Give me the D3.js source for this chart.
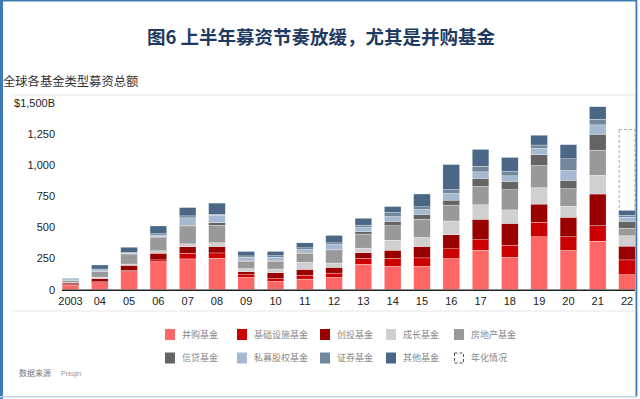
<!DOCTYPE html>
<html>
<head>
<meta charset="utf-8">
<script src="https://cdn.jsdelivr.net/npm/d3@7"></script>
<style>
  html, body { margin: 0; padding: 0; background: #fff; }
  svg { display: block; }
  .cjk { font-family: "Noto Sans CJK SC", "Noto Sans", sans-serif; }
  .num { font-family: "Liberation Sans", Arial, sans-serif; }
</style>
</head>
<body>
<div id="chart"></div>
<script>
// 全球各基金类型募资总额 (十亿美元), stacked by fund type
const years = ['2003', '04', '05', '06', '07', '08', '09', '10', '11', '12',
  '13', '14', '15', '16', '17', '18', '19', '20', '21', '22'];

const buyout = [32, 54, 143, 224, 246, 251, 97, 65, 84, 97, 203, 186, 186, 249, 316, 259, 424, 314, 389, 119];
const infra = [6, 8, 10, 14, 46, 43, 22, 22, 30, 35, 47, 63, 68, 78, 84, 98, 117, 110, 124, 119];
const venture = [14, 27, 42, 54, 51, 52, 24, 48, 48, 46, 46, 67, 92, 113, 165, 175, 146, 157, 255, 111];
const growth = [4, 11, 10, 19, 24, 30, 25, 30, 57, 35, 37, 81, 73, 111, 116, 108, 132, 89, 151, 83];
const realEstate = [14, 43, 76, 108, 138, 140, 59, 62, 73, 98, 113, 116, 146, 128, 148, 163, 178, 141, 202, 60];
const credit = [3, 4, 6, 5, 11, 22, 8, 8, 8, 11, 18, 36, 40, 40, 65, 67, 87, 67, 128, 57];
const privateEquity = [5, 10, 6, 14, 60, 59, 24, 24, 22, 40, 35, 37, 38, 54, 52, 44, 51, 79, 75, 32];
const securities = [3, 8, 5, 11, 16, 8, 11, 13, 13, 13, 19, 33, 22, 30, 46, 35, 27, 94, 46, 16];
const other = [7, 32, 42, 62, 67, 90, 36, 34, 40, 60, 55, 48, 103, 202, 135, 113, 79, 114, 100, 38];

// 2022 annualised total (dashed outline)
const annualYear = '22';
const annualTotal = 1287;

const seriesNames = ['并购基金', '基础设施基金', '创投基金', '成长基金', '房地产基金',
  '信贷基金', '私募股权基金', '证券基金', '其他基金'];
const seriesValues = [buyout, infra, venture, growth, realEstate, credit, privateEquity, securities, other];
const seriesColors = ['#ff6666', '#cc0000', '#990000', '#d0d0d0', '#999999',
  '#646464', '#a6b9d2', '#72879c', '#4a6785'];

const yTicks = [0, 250, 500, 750, 1000, 1250, 1500];

const W = 640, H = 399;

const svg = d3.select('#chart').append('svg')
  .attr('width', W)
  .attr('height', H);

svg.append('rect').attr('x', 0).attr('y', 0).attr('width', W).attr('height', H).attr('fill', '#fff');

// title
svg.append('text')
  .attr('class', 'cjk')
  .attr('x', 321).attr('y', 44)
  .attr('text-anchor', 'middle')
  .attr('font-size', 18.5)
  .attr('font-weight', 700)
  .attr('fill', '#1f3a60')
  .text('图6 上半年募资节奏放缓，尤其是并购基金');

svg.append('text')
  .attr('class', 'cjk')
  .attr('x', 3).attr('y', 86)
  .attr('font-size', 12.3)
  .attr('fill', '#333')
  .text('全球各基金类型募资总额');

// light rules framing the plot
svg.append('line').attr('x1', 13).attr('x2', 635).attr('y1', 95).attr('y2', 95)
  .attr('stroke', '#e6e6e6').attr('stroke-width', 1);
svg.append('line').attr('x1', 13).attr('x2', 635).attr('y1', 311).attr('y2', 311)
  .attr('stroke', '#e6e6e6').attr('stroke-width', 1);

const x = d3.scaleBand()
  .domain(years)
  .range([55.85, 55.85 + 29.29 * years.length])
  .paddingInner(0.43)
  .paddingOuter(0.215);

const y = d3.scaleLinear().domain([0, 1500]).range([289.5, 103]);

// stack
const table = years.map((yr, i) => {
  const row = { year: yr };
  seriesNames.forEach((s, k) => { row[s] = seriesValues[k][i]; });
  return row;
});
const stacked = d3.stack().keys(seriesNames)(table);

const g = svg.append('g');
g.selectAll('g.layer')
  .data(stacked)
  .join('g')
  .attr('class', 'layer')
  .attr('fill', (d, k) => seriesColors[k])
  .selectAll('rect')
  .data(d => d)
  .join('rect')
  .attr('x', d => x(d.data.year))
  .attr('width', x.bandwidth())
  .attr('y', d => y(d[1]))
  .attr('height', d => Math.max(0, y(d[0]) - y(d[1])))
  .attr('stroke', '#fff')
  .attr('stroke-width', 0.3);

// annualised outline
const lastTop = d3.sum(seriesValues, s => s[years.indexOf(annualYear)]);
svg.append('rect')
  .attr('x', x(annualYear) + 0.5)
  .attr('width', x.bandwidth() - 1)
  .attr('y', y(annualTotal))
  .attr('height', y(lastTop) - y(annualTotal))
  .attr('fill', 'none')
  .attr('stroke', '#aaa')
  .attr('stroke-width', 1)
  .attr('stroke-dasharray', '3,2');

// axes
const yAxis = svg.append('g').attr('transform', 'translate(55,0)')
  .call(d3.axisLeft(y).tickValues(yTicks).tickSize(0).tickPadding(0)
    .tickFormat(d => d === 1500 ? '$1,500B' : d3.format(',')(d)));
yAxis.select('.domain').remove();
yAxis.selectAll('text').attr('class', 'num').attr('font-size', 11).attr('fill', '#222');

svg.append('line').attr('x1', 62).attr('x2', 635).attr('y1', 290.2).attr('y2', 290.2)
  .attr('stroke', '#222').attr('stroke-width', 1.6);

const xAxis = svg.append('g').attr('transform', 'translate(0,293)')
  .call(d3.axisBottom(x).tickSize(0).tickPadding(4));
xAxis.select('.domain').remove();
xAxis.selectAll('text').attr('class', 'num').attr('font-size', 11).attr('fill', '#222');

// legend
const legendCols = [165, 237, 320, 386, 454];
const legendRows = [334.5, 358];
const legendItems = seriesNames.map((n, k) => ({ name: n, color: seriesColors[k] }))
  .concat([{ name: '年化情况', color: null }]);

const lg = svg.append('g');
legendItems.forEach((d, i) => {
  const cx = legendCols[i % 5], cy = legendRows[Math.floor(i / 5)];
  if (d.color) {
    lg.append('rect').attr('x', cx).attr('y', cy - 5.5).attr('width', 10).attr('height', 11)
      .attr('fill', d.color);
  } else {
    lg.append('rect').attr('x', cx + 0.5).attr('y', cy - 5).attr('width', 9).attr('height', 10)
      .attr('fill', 'none').attr('stroke', '#555').attr('stroke-width', 1).attr('stroke-dasharray', '3,2');
  }
  lg.append('text').attr('class', 'cjk')
    .attr('x', cx + 17).attr('y', cy + 3.3)
    .attr('font-size', 9).attr('fill', '#888')
    .text(d.name);
});

// source
svg.append('text').attr('class', 'cjk').attr('x', 19).attr('y', 375.5)
  .attr('font-size', 8).attr('fill', '#777').text('数据来源');
svg.append('text').attr('class', 'num').attr('x', 61).attr('y', 375.5)
  .attr('font-size', 7).attr('fill', '#999').text('Preqin');

// page border
svg.append('rect').attr('x', 0).attr('y', 0).attr('width', 3).attr('height', H).attr('fill', '#3d7cb3');
svg.append('rect').attr('x', 0).attr('y', 0).attr('width', 637).attr('height', 1.5).attr('fill', '#3d7cb3');
svg.append('rect').attr('x', 635.5).attr('y', 0).attr('width', 1.8).attr('height', 397).attr('fill', '#3d7cb3');
svg.append('rect').attr('x', 0).attr('y', 396).attr('width', 637).attr('height', 1.5).attr('fill', '#bcd6e8');
</script>
</body>
</html>
